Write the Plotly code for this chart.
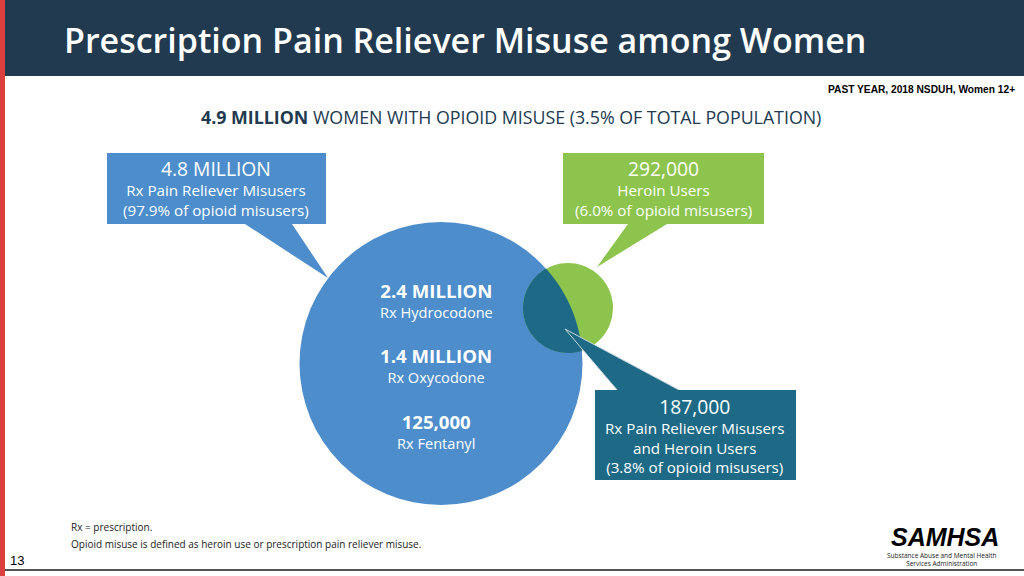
import numpy as np
import plotly.graph_objects as go

# ---------------- data ----------------
title_text = "Prescription Pain Reliever Misuse among Women"
source_text = "PAST YEAR, 2018 NSDUH, Women 12+"
total_value = "4.9 MILLION"
total_label = "WOMEN WITH OPIOID MISUSE (3.5% OF TOTAL POPULATION)"

callout_values = ["4.8 MILLION", "292,000", "187,000"]
callout_lines = [
    ["Rx Pain Reliever Misusers", "(97.9% of opioid misusers)"],
    ["Heroin Users", "(6.0% of opioid misusers)"],
    ["Rx Pain Reliever Misusers", "and Heroin Users", "(3.8% of opioid misusers)"],
]
drug_values = ["2.4 MILLION", "1.4 MILLION", "125,000"]
drug_names = ["Rx Hydrocodone", "Rx Oxycodone", "Rx Fentanyl"]
footnotes = ["Rx = prescription.",
             "Opioid misuse is defined as heroin use or prescription pain reliever misuse."]
page_number = "13"
logo_lines = ["SAMHSA", "Substance Abuse and Mental Health", "Services Administration"]

# ---------------- style / layout ----------------
W, H = 1024, 576
NAVY = "#213A4F"
BLUE = "#4D8DCB"
GREEN = "#8DC44E"
TEAL = "#1D6986"
RED = "#D9403E"
FONT = "Open Sans, Noto Sans, sans-serif"

fig = go.Figure()
shapes = []
ann = []

# background pieces
shapes.append(dict(type="rect", x0=0, x1=5, y0=0, y1=H, fillcolor=RED, line_width=0, layer="below"))
shapes.append(dict(type="rect", x0=5, x1=W, y0=0, y1=76, fillcolor=NAVY, line_width=0, layer="below"))
shapes.append(dict(type="line", x0=5, x1=W, y0=570, y1=570, line=dict(color="#555555", width=2)))

# circles
c1 = np.array([441.0, 363.5]); r1 = 141.5
c2 = np.array([568.0, 308.0]); r2 = 45.0
shapes.append(dict(type="circle", x0=c1[0]-r1, x1=c1[0]+r1, y0=c1[1]-r1, y1=c1[1]+r1,
                   fillcolor=BLUE, line_width=0))
shapes.append(dict(type="circle", x0=c2[0]-r2, x1=c2[0]+r2, y0=c2[1]-r2, y1=c2[1]+r2,
                   fillcolor=GREEN, line_width=0))

# lens (intersection)
d = np.linalg.norm(c2 - c1)
a = (r1**2 - r2**2 + d**2) / (2*d)
h = np.sqrt(r1**2 - a**2)
u = (c2 - c1) / d
perp = np.array([-u[1], u[0]])
p1 = c1 + a*u + h*perp
p2 = c1 + a*u - h*perp

def ang(c, p):
    return np.arctan2(p[1]-c[1], p[0]-c[0])

def arc_pts(c, r, pa, pb, toward):
    a0, a1 = ang(c, pa), ang(c, pb)
    at = np.arctan2(toward[1]-c[1], toward[0]-c[0])
    best = None
    for dirn in (1, -1):
        da = (a1 - a0) % (2*np.pi) if dirn > 0 else -((a0 - a1) % (2*np.pi))
        ts = a0 + np.linspace(0, da, 60)
        dist = np.min(np.abs(np.angle(np.exp(1j*(ts - at)))))
        if best is None or dist < best[0]:
            best = (dist, ts)
    ts = best[1]
    return [(c[0] + r*np.cos(t), c[1] + r*np.sin(t)) for t in ts]

pts = arc_pts(c1, r1, p1, p2, c2) + arc_pts(c2, r2, p2, p1, c1)
lens_path = "M " + " L ".join(f"{x:.2f},{y:.2f}" for x, y in pts) + " Z"
shapes.append(dict(type="path", path=lens_path, fillcolor=TEAL, line_width=0))

# callouts
def callout_bottom(x0, x1, y0, y1, b1, b2, tip):
    return (f"M {x0},{y0} L {x1},{y0} L {x1},{y1} L {b2},{y1} L {tip[0]},{tip[1]} "
            f"L {b1},{y1} L {x0},{y1} Z")

shapes.append(dict(type="path", path=callout_bottom(107, 326, 153, 224, 245, 292, (328, 278)),
                   fillcolor=BLUE, line_width=0))
shapes.append(dict(type="path", path=callout_bottom(563, 764, 153, 224, 628, 667, (597, 267)),
                   fillcolor=GREEN, line_width=0))
# teal callout: tail on top
shapes.append(dict(type="path", path="M 618,391 L 565,329 L 681,391 Z",
                   fillcolor=TEAL, line=dict(color="#C9D6DC", width=1)))
shapes.append(dict(type="rect", x0=595, x1=796, y0=390, y1=480, fillcolor=TEAL, line_width=0))

# ---------------- texts ----------------
def text(x, y, s, size, color="white", xanchor="center", weight=None, family=FONT):
    f = dict(size=size, color=color, family=family)
    if weight is not None:
        f["weight"] = weight
    ann.append(dict(x=x, y=y, xref="x", yref="y", text=s, showarrow=False,
                    xanchor=xanchor, yanchor="middle", font=f, borderpad=0))

text(63, 40, title_text, 34, xanchor="left", weight=600)
text(1016, 89, f"<b>{source_text}</b>", 10.2, color="black", xanchor="right",
     family="Liberation Sans, Arial, sans-serif")
text(511, 117, f"<b>{total_value}</b> {total_label}", 17.8, color=NAVY)

# callout texts (one block each)
box_centers = [(216, 187.5), (663, 187.5), (695, 434.5)]
for (cx, cy), v, lines in zip(box_centers, callout_values, callout_lines):
    block = f"<span style='font-size:19.3px'>{v}</span><br>" + "<br>".join(lines)
    text(cx, cy, block, 15.2)

# circle texts
drug_y = [300, 365, 431]
for y, v, n in zip(drug_y, drug_values, drug_names):
    block = f"<span style='font-size:18.6px'><b>{v}</b></span><br><span style='font-size:14.6px'>{n}</span>"
    text(436, y, block, 15.4)

# footnotes
text(70, 527, footnotes[0], 10, color="#222222", xanchor="left")
text(70, 544, footnotes[1], 10, color="#222222", xanchor="left")
text(9, 560, page_number, 13, color="black", xanchor="left",
     family="Liberation Sans, sans-serif")

# logo
text(945, 537, f"<b><i>{logo_lines[0]}</i></b>", 25, color="black",
     family="Liberation Sans, Arial, sans-serif")
text(942, 559.5, f"{logo_lines[1]}<br>{logo_lines[2]}", 6.5, color="#222222")

fig.update_layout(
    width=W, height=H, margin=dict(l=0, r=0, t=0, b=0),
    paper_bgcolor="white", plot_bgcolor="white",
    xaxis=dict(range=[0, W], visible=False, fixedrange=True),
    yaxis=dict(range=[H, 0], visible=False, fixedrange=True),
    shapes=shapes, annotations=ann, showlegend=False,
)
fig.write_html("out.html", config={"displayModeBar": False},
               post_script="document.body.style.margin='0';document.body.style.overflow='hidden';")
